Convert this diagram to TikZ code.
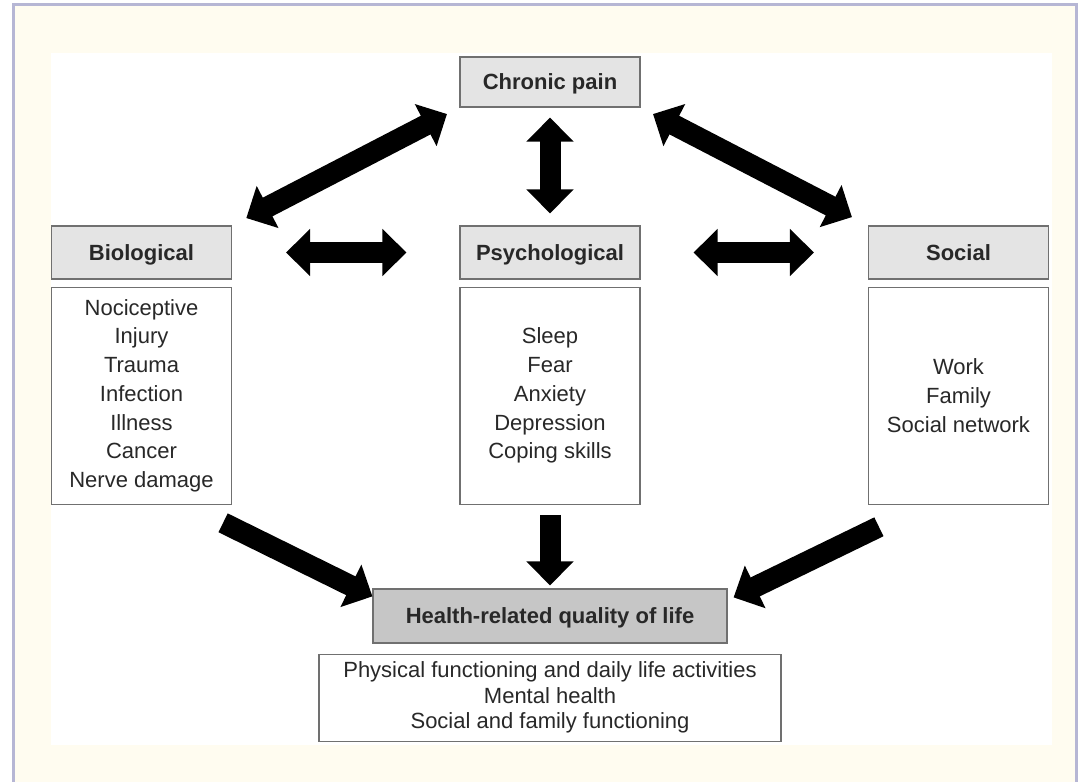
\documentclass[tikz,border=0pt]{standalone}
\usepackage{fontspec}
\setmainfont{Liberation Sans}
\usepackage{tikz}
\usetikzlibrary{arrows.meta,positioning}
\usepackage{xcolor}
\definecolor{frameFill}{RGB}{255,252,240}
\definecolor{frameLine}{RGB}{182,182,212}
\definecolor{headFill}{RGB}{228,228,228}
\definecolor{hrqlFill}{RGB}{198,198,198}
\definecolor{boxLine}{RGB}{112,112,112}
\definecolor{textDark}{RGB}{40,40,40}
\tikzset{
    every node/.append style={align=center},
    head/.style={rectangle,draw=boxLine,line width=1.2pt,fill=headFill,minimum width=180pt,
        minimum height=53pt,text height=18pt,text depth=3pt,text=textDark,
        font=\fontsize{22}{26}\selectfont\bfseries},
    listbox/.style={rectangle,draw=boxLine,line width=1.2pt,fill=white,minimum width=180pt,
        minimum height=217pt,text=textDark,font=\fontsize{22}{28.7}\selectfont},
    barr/.style={-{Triangle[length=24pt,width=46pt]},line width=21pt},
    dbarr/.style={{Triangle[length=24pt,width=46pt]}-{Triangle[length=24pt,width=46pt]},line width=21pt}
}
\begin{document}
\begin{tikzpicture}[x=1pt,y=-1pt]
    \useasboundingbox (0,0) rectangle (1082,782);
    % page frame
    \fill[white] (0,0) rectangle (1082,782);
    \fill[frameFill] (13.5,4) rectangle (1076,782);
    \draw[frameLine,line width=3pt] (13.5,782) -- (13.5,4) -- (1076,4) -- (1076,782);
    \fill[white] (51,53) rectangle (1052,745);

    % headers
    \node[head,minimum height=50pt] (pain) at (550,82)    {Chronic pain};
    \node[head]                     (bio)  at (141.5,252.5) {Biological};
    \node[head]                     (psy)  at (550,252.5)   {Psychological};
    \node[head]                     (soc)  at (958.5,252.5) {Social};
    % factor lists
    \node[listbox,below=7pt of bio] (biolist) {Nociceptive\\Injury\\Trauma\\Infection\\Illness\\Cancer\\Nerve damage};
    \node[listbox,below=7pt of psy] (psylist) {Sleep\\Fear\\Anxiety\\Depression\\Coping skills};
    \node[listbox,below=7pt of soc] (soclist) {Work\\Family\\Social network};
    % outcome
    \node[head,fill=hrqlFill,minimum width=354pt,minimum height=54pt] (hrql) at (550,616) {Health-related quality of life};
    \node[listbox,minimum width=462pt,minimum height=87pt,font=\fontsize{22}{25.5}\selectfont,
        below=10pt of hrql] (hrqllist) {Physical functioning and daily life activities\\Mental health\\Social and family functioning};

    % interactions
    \draw[dbarr,shorten <=16pt,shorten >=14pt] (bio.north east) -- (pain.south west);
    \draw[dbarr,shorten <=14pt,shorten >=18pt] (pain.south east) -- (soc.north west);
    \draw[dbarr,shorten <=10pt,shorten >=12pt] (pain.south) -- (psy.north);
    \draw[dbarr,shorten <=54pt,shorten >=53pt] (bio.east) -- (psy.west);
    \draw[dbarr,shorten <=53pt,shorten >=54pt] (psy.east) -- (soc.west);
    % effects on quality of life
    \draw[barr] ([shift={(-9pt,-18pt)}]biolist.south east) -- ([yshift=-8pt]hrql.north west);
    \draw[barr,shorten <=10pt,shorten >=3pt] (psylist.south) -- (hrql.north);
    \draw[barr] ([shift={(11pt,-22pt)}]soclist.south west) -- ([shift={(6pt,-9pt)}]hrql.north east);
\end{tikzpicture}
\end{document}
